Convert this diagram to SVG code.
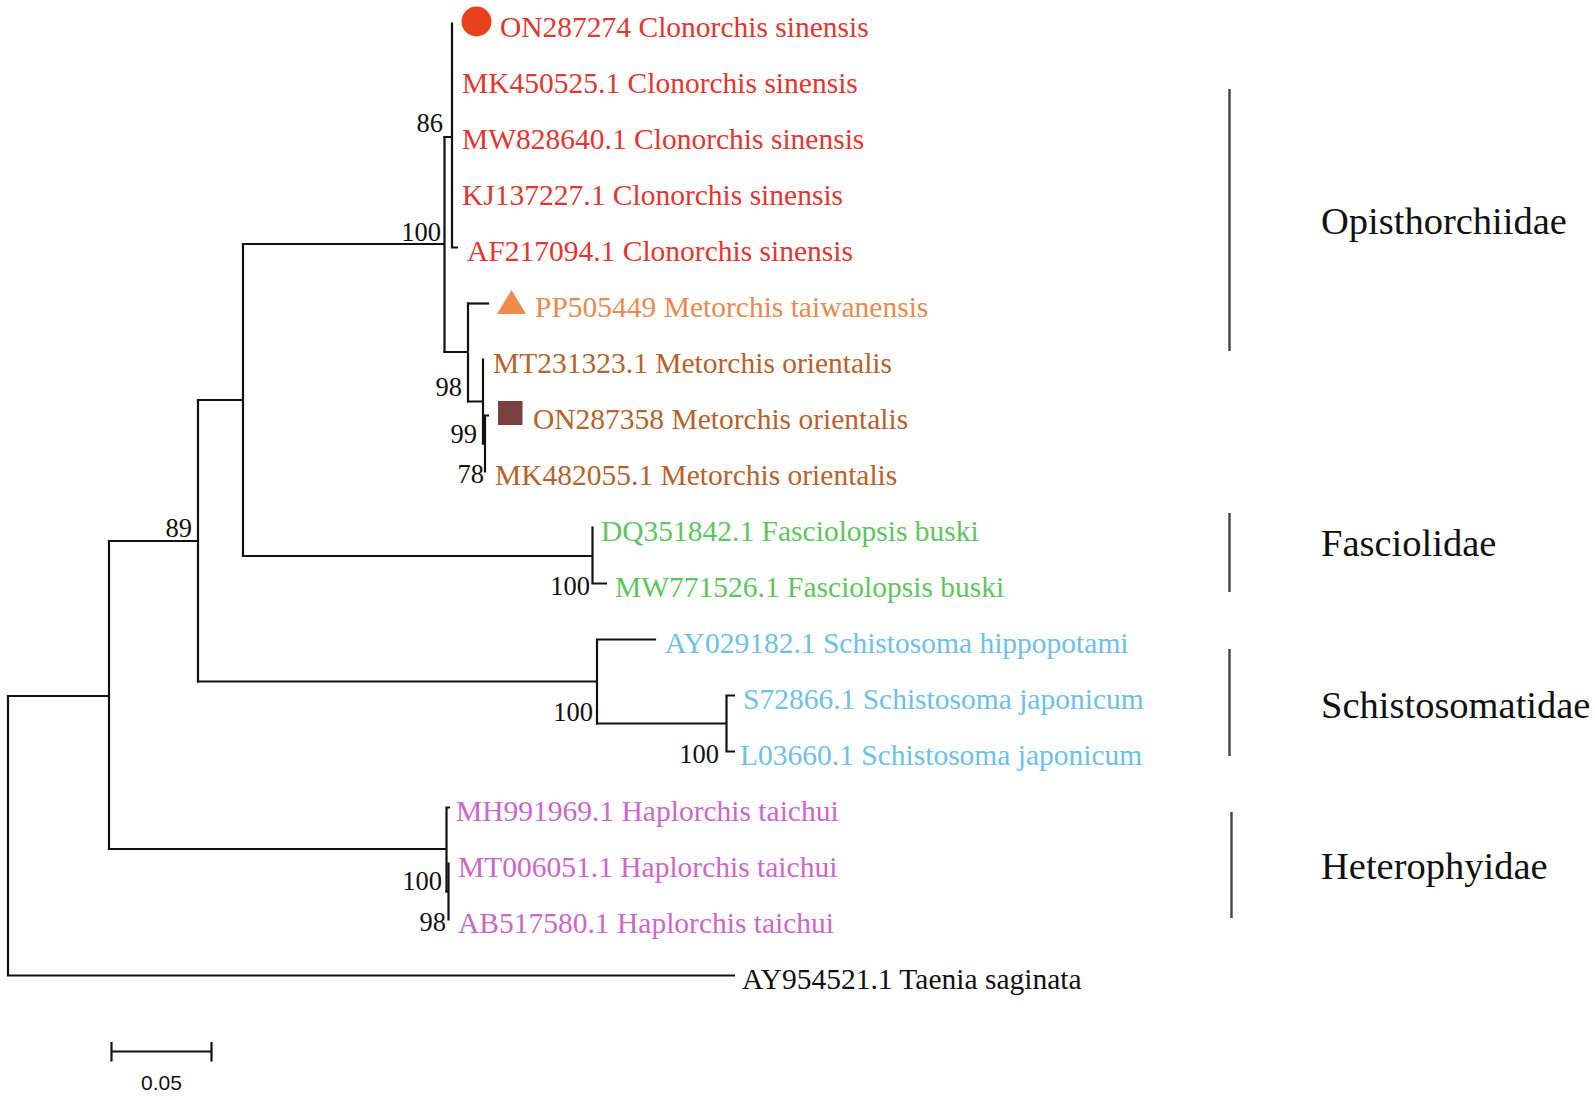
<svg xmlns="http://www.w3.org/2000/svg" width="1595" height="1100" viewBox="0 0 1595 1100">
<style>
.br{fill:none;stroke:#111;stroke-width:2.2;stroke-linecap:square}
.bar{stroke:#444;stroke-width:2.4}
.lf{font-family:"Liberation Serif","Times New Roman",serif;font-size:29.5px}
.bs{font-family:"Liberation Serif","Times New Roman",serif;font-size:26.5px;fill:#111;text-anchor:end}
.fam{font-family:"Liberation Serif","Times New Roman",serif;font-size:38.5px;fill:#111}
.cs{fill:#E53530}.mt{fill:#E8894F}.mo{fill:#B8612A}.fb{fill:#5DC55D}.sc{fill:#6CC0EA}.ht{fill:#CC66CC}.tn{fill:#111}
</style>
<rect width="1595" height="1100" fill="#fff"/>
<g id="connectors">
<path class="br" d="M8,696 V975.5 H734"/>
<path class="br" d="M8,696 H109 M109,541 V849"/>
<path class="br" d="M109,541 H198 M198,400 V681.5"/>
<path class="br" d="M198,400 H243 M243,244 V556"/>
<path class="br" d="M243,244 H444.5 M444.5,137 V352"/>
<path class="br" d="M444.5,137 H452 M452,23.5 V247.5 H457"/>
<path class="br" d="M444.5,352 H468 M468,303.5 V401.5"/>
<path class="br" d="M468,303.5 H488"/>
<path class="br" d="M468,401.5 H483 M483,359.5 V443.5"/>
<path class="br" d="M483,443.5 H485 M485,415.5 V471.5 M485,415.5 H488"/>
<path class="br" d="M243,556 H592.5 M592.5,527.5 V583.5 H606"/>
<path class="br" d="M198,681.5 H597 M597,639.5 V723.5 M597,639.5 H655"/>
<path class="br" d="M597,723.5 H726.5 M726.5,695.5 V751.5 M726.5,695.5 H734 M726.5,751.5 H734"/>
<path class="br" d="M109,849 H446.5 M446.5,807.5 V891.5 M446.5,807.5 H449"/>
<path class="br" d="M446.5,891.5 H448.5 M448.5,863.5 V919.5"/>
</g>
<g id="bootstrap">
<text class="bs" x="443" y="132">86</text>
<text class="bs" x="441" y="241">100</text>
<text class="bs" x="462" y="396">98</text>
<text class="bs" x="477" y="443">99</text>
<text class="bs" x="484" y="483">78</text>
<text class="bs" x="192" y="537">89</text>
<text class="bs" x="590" y="595">100</text>
<text class="bs" x="593" y="721">100</text>
<text class="bs" x="719" y="763">100</text>
<text class="bs" x="442" y="890">100</text>
<text class="bs" x="446" y="931">98</text>
</g>
<g id="markers">
<circle id="marker-ON287274" cx="476.5" cy="21.5" r="15" fill="#E8411E"/>
<polygon id="marker-PP505449" points="497,314 526,314 511.5,290" fill="#EE8A4E"/>
<rect id="marker-ON287358" x="498" y="401" width="24.5" height="24" fill="#7A4040"/>
</g>
<g id="leaves">
<g id="leaf-ON287274"><text class="lf cs" x="500" y="37">ON287274 Clonorchis sinensis</text></g>
<g id="leaf-MK450525"><text class="lf cs" x="462" y="93">MK450525.1 Clonorchis sinensis</text></g>
<g id="leaf-MW828640"><text class="lf cs" x="462" y="149">MW828640.1 Clonorchis sinensis</text></g>
<g id="leaf-KJ137227"><text class="lf cs" x="462" y="205">KJ137227.1 Clonorchis sinensis</text></g>
<g id="leaf-AF217094"><text class="lf cs" x="467" y="261">AF217094.1 Clonorchis sinensis</text></g>
<g id="leaf-PP505449"><text class="lf mt" x="535" y="317">PP505449 Metorchis taiwanensis</text></g>
<g id="leaf-MT231323"><text class="lf mo" x="493" y="373">MT231323.1 Metorchis orientalis</text></g>
<g id="leaf-ON287358"><text class="lf mo" x="533" y="429">ON287358 Metorchis orientalis</text></g>
<g id="leaf-MK482055"><text class="lf mo" x="495" y="485">MK482055.1 Metorchis orientalis</text></g>
<g id="leaf-DQ351842"><text class="lf fb" x="601" y="541">DQ351842.1 Fasciolopsis buski</text></g>
<g id="leaf-MW771526"><text class="lf fb" x="615" y="597">MW771526.1 Fasciolopsis buski</text></g>
<g id="leaf-AY029182"><text class="lf sc" x="665" y="653">AY029182.1 Schistosoma hippopotami</text></g>
<g id="leaf-S72866"><text class="lf sc" x="743" y="709">S72866.1 Schistosoma japonicum</text></g>
<g id="leaf-L03660"><text class="lf sc" x="740" y="765">L03660.1 Schistosoma japonicum</text></g>
<g id="leaf-MH991969"><text class="lf ht" x="456" y="821">MH991969.1 Haplorchis taichui</text></g>
<g id="leaf-MT006051"><text class="lf ht" x="458" y="877">MT006051.1 Haplorchis taichui</text></g>
<g id="leaf-AB517580"><text class="lf ht" x="458" y="933">AB517580.1 Haplorchis taichui</text></g>
<g id="leaf-AY954521"><text class="lf tn" x="742" y="989">AY954521.1 Taenia saginata</text></g>
</g>
<g id="families">
<g id="fam-Opisthorchiidae"><line class="bar" x1="1229.5" y1="89" x2="1229.5" y2="351"/><text class="fam" x="1321" y="234">Opisthorchiidae</text></g>
<g id="fam-Fasciolidae"><line class="bar" x1="1229.5" y1="513" x2="1229.5" y2="592"/><text class="fam" x="1321" y="556">Fasciolidae</text></g>
<g id="fam-Schistosomatidae"><line class="bar" x1="1229.5" y1="649" x2="1229.5" y2="756"/><text class="fam" x="1321" y="718">Schistosomatidae</text></g>
<g id="fam-Heterophyidae"><line class="bar" x1="1231.5" y1="812" x2="1231.5" y2="918"/><text class="fam" x="1321" y="879">Heterophyidae</text></g>
</g>
<g id="scalebar">
<path class="br" d="M111.5,1051.5 H211.5 M111.5,1043 V1060.5 M211.5,1043 V1060.5" stroke-width="2.4"/>
<text x="161.5" y="1090" font-family="'Liberation Sans',Arial,sans-serif" font-size="21" fill="#111" text-anchor="middle">0.05</text>
</g>
</svg>
